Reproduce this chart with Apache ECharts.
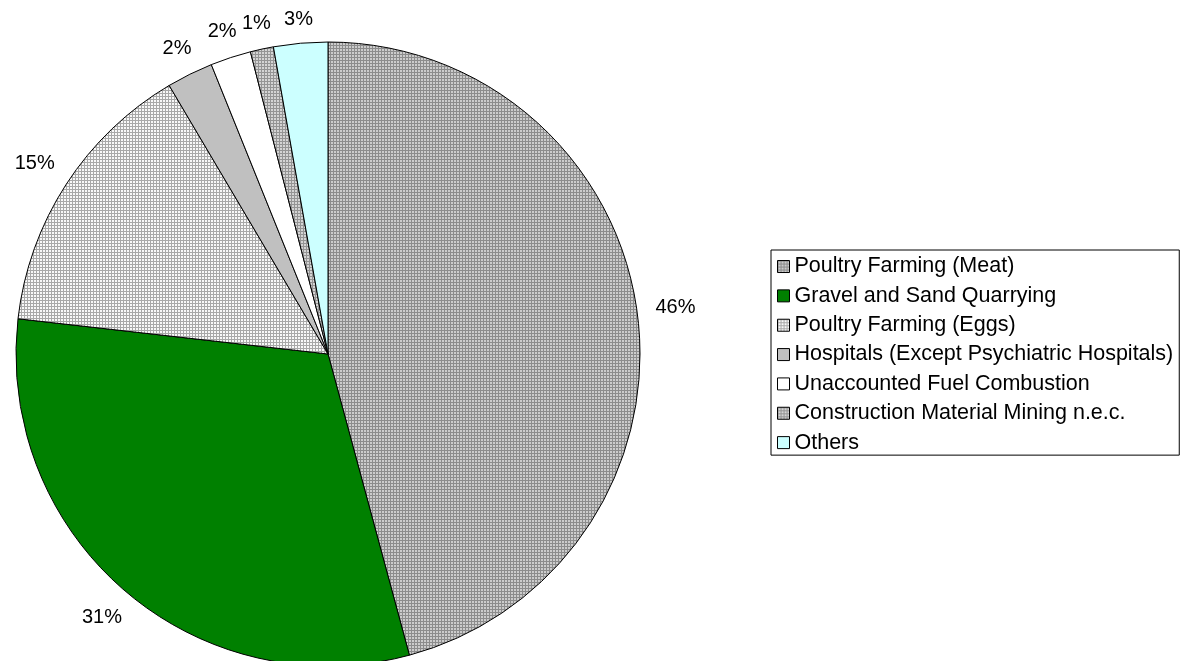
<!DOCTYPE html>
<html style="height: 100%">
<head>
	<title></title>
	<script type="text/javascript" src="https://cdn.jsdelivr.net/npm/echarts@6/dist/echarts.min.js"></script>
</head>
<body style="height: 100%; margin: 0; background: #fff">
<div id="container" style="width: 1180px; height: 661px"></div>
<script type="text/javascript">
	var categories = ['Poultry Farming (Meat)', 'Gravel and Sand Quarrying', 'Poultry Farming (Eggs)',
		'Hospitals (Except Psychiatric Hospitals)', 'Unaccounted Fuel Combustion',
		'Construction Material Mining n.e.c.', 'Others'];
	var shares = [45.8, 31.0, 14.7, 2.4, 2.1, 1.2, 2.8];

	// small tiles to mimic the dotted fills
	function tile(line, cell) {
		var c = document.createElement('canvas');
		c.width = 3; c.height = 3;
		var ctx = c.getContext('2d');
		ctx.fillStyle = line;
		ctx.fillRect(0, 0, 3, 3);
		ctx.fillStyle = cell;
		ctx.fillRect(1, 1, 2, 2);
		return {image: c, repeat: 'repeat'};
	}
	var fills = [
		tile('#8c8c8c', '#cccccc'),
		'#008000',
		tile('#a8a8a8', '#f8f8f8'),
		'#c0c0c0',
		'#ffffff',
		tile('#949494', '#d4d4d4'),
		'#ccffff'
	];

	var font = 'Liberation Sans, Arial';
	var pieCenter = [328, 354];
	var data = categories.map(function (name, i) {
		return {name: name, value: shares[i], itemStyle: {color: fills[i]}};
	});

	var myChart = echarts.init(document.getElementById('container'));
	var option = {
		animation: false,
		legend: {
			orient: 'vertical',
			left: 771,
			top: 250,
			padding: [-2, 6, -6, 6],
			itemWidth: 12,
			itemHeight: 12,
			itemGap: -7.7,
			icon: 'rect',
			borderColor: '#000',
			borderWidth: 1,
			borderRadius: 0,
			itemStyle: {borderColor: '#000', borderWidth: 1},
			textStyle: {fontFamily: font, fontSize: 21.5, lineHeight: 24.5, color: '#000'},
			data: categories
		},
		series: [{
			type: 'pie',
			center: pieCenter,
			radius: 312,
			startAngle: 90,
			clockwise: true,
			itemStyle: {borderColor: '#000', borderWidth: 1},
			emphasis: {disabled: true},
			label: {show: false},
			labelLine: {show: false},
			data: data
		}, {
			// invisible ring that carries the percentage labels just outside the pie
			type: 'pie',
			center: pieCenter,
			radius: [314, 340],
			startAngle: 90,
			clockwise: true,
			silent: true,
			legendHoverLink: false,
			itemStyle: {color: 'rgba(0,0,0,0)', borderWidth: 0},
			emphasis: {disabled: true},
			label: {
				show: true,
				position: 'inside',
				fontFamily: font,
				fontSize: 20,
				color: '#000',
				formatter: function (p) { return Math.round(p.percent) + '%'; }
			},
			labelLine: {show: false},
			// push each label out so its box sits just off the rim
			labelLayout: function (params) {
				var r = params.labelRect;
				var cx = r.x + r.width / 2 - pieCenter[0];
				var cy = r.y + r.height / 2 - pieCenter[1];
				var d = Math.sqrt(cx * cx + cy * cy);
				var ux = cx / d, uy = cy / d;
				var push = Math.abs(ux) * r.width / 2 + Math.abs(uy) * 5;
				return {dx: ux * push, dy: uy * push};
			},
			data: categories.map(function (name, i) { return {name: name, value: shares[i]}; })
		}]
	};
	myChart.setOption(option);
</script>
</body>
</html>
